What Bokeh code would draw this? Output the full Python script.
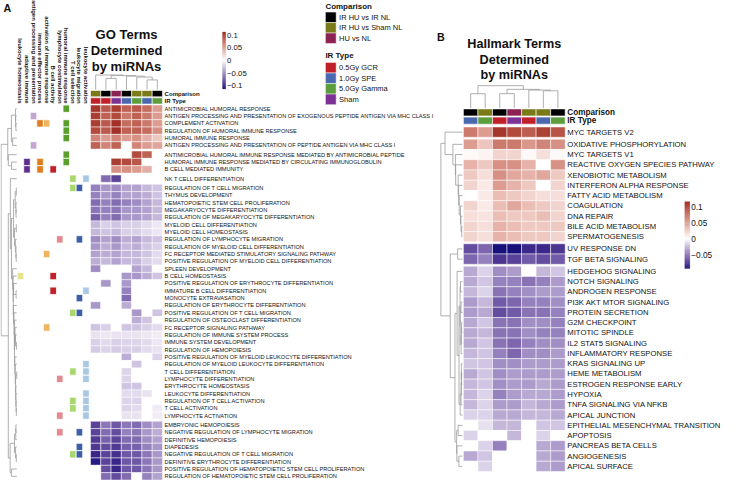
import math
import numpy as np
from bokeh.plotting import figure
from bokeh.models import Range1d
from bokeh.embed import file_html
from bokeh.resources import INLINE
from bokeh.core.properties import value

# ------------------------------------------------------------------ data
comparison_levels = ["IR HU vs IR NL", "IR HU vs Sham NL", "HU vs NL"]
comparison_colors = ["#000000", "#7a7a18", "#8b2252"]
irtype_levels = ["0.5Gy GCR", "1.0Gy SPE", "5.0Gy Gamma", "Sham"]
irtype_colors = ["#c0202a", "#4a68b0", "#5c9e3c", "#7b3294"]

go_comparison = ["IR HU vs Sham NL", "IR HU vs IR NL", "HU vs NL", "IR HU vs IR NL",
                 "IR HU vs Sham NL", "IR HU vs Sham NL", "IR HU vs IR NL"]
go_irtype = ["0.5Gy GCR", "0.5Gy GCR", "Sham", "1.0Gy SPE", "5.0Gy Gamma", "1.0Gy SPE", "5.0Gy Gamma"]
hm_comparison = ["IR HU vs IR NL", "IR HU vs Sham NL", "IR HU vs IR NL", "HU vs NL",
                 "IR HU vs Sham NL", "IR HU vs Sham NL", "IR HU vs IR NL"]
hm_irtype = ["1.0Gy SPE", "5.0Gy Gamma", "0.5Gy GCR", "Sham", "0.5Gy GCR", "1.0Gy SPE", "5.0Gy Gamma"]

go_terms = [
    "ANTIMICROBIAL HUMORAL RESPONSE",
    "ANTIGEN PROCESSING AND PRESENTATION OF EXOGENOUS PEPTIDE ANTIGEN VIA MHC CLASS I",
    "COMPLEMENT ACTIVATION",
    "REGULATION OF HUMORAL IMMUNE RESPONSE",
    "HUMORAL IMMUNE RESPONSE",
    "ANTIGEN PROCESSING AND PRESENTATION OF PEPTIDE ANTIGEN VIA MHC CLASS I",
    "ANTIMICROBIAL HUMORAL IMMUNE RESPONSE MEDIATED BY ANTIMICROBIAL PEPTIDE",
    "HUMORAL IMMUNE RESPONSE MEDIATED BY CIRCULATING IMMUNOGLOBULIN",
    "B CELL MEDIATED IMMUNITY",
    "NK T CELL DIFFERENTIATION",
    "REGULATION OF T CELL MIGRATION",
    "THYMUS DEVELOPMENT",
    "HEMATOPOIETIC STEM CELL PROLIFERATION",
    "MEGAKARYOCYTE DIFFERENTIATION",
    "REGULATION OF MEGAKARYOCYTE DIFFERENTIATION",
    "MYELOID CELL DIFFERENTIATION",
    "MYELOID CELL HOMEOSTASIS",
    "REGULATION OF LYMPHOCYTE MIGRATION",
    "REGULATION OF MYELOID CELL DIFFERENTIATION",
    "FC RECEPTOR MEDIATED STIMULATORY SIGNALING PATHWAY",
    "POSITIVE REGULATION OF MYELOID CELL DIFFERENTIATION",
    "SPLEEN DEVELOPMENT",
    "B CELL HOMEOSTASIS",
    "POSITIVE REGULATION OF ERYTHROCYTE DIFFERENTIATION",
    "IMMATURE B CELL DIFFERENTIATION",
    "MONOCYTE EXTRAVASATION",
    "REGULATION OF ERYTHROCYTE DIFFERENTIATION",
    "POSITIVE REGULATION OF T CELL MIGRATION",
    "REGULATION OF OSTEOCLAST DIFFERENTIATION",
    "FC RECEPTOR SIGNALING PATHWAY",
    "REGULATION OF IMMUNE SYSTEM PROCESS",
    "IMMUNE SYSTEM DEVELOPMENT",
    "REGULATION OF HEMOPOIESIS",
    "POSITIVE REGULATION OF MYELOID LEUKOCYTE DIFFERENTIATION",
    "REGULATION OF MYELOID LEUKOCYTE DIFFERENTIATION",
    "T CELL DIFFERENTIATION",
    "LYMPHOCYTE DIFFERENTIATION",
    "ERYTHROCYTE HOMEOSTASIS",
    "LEUKOCYTE DIFFERENTIATION",
    "REGULATION OF T CELL ACTIVATION",
    "T CELL ACTIVATION",
    "LYMPHOCYTE ACTIVATION",
    "EMBRYONIC HEMOPOIESIS",
    "NEGATIVE REGULATION OF LYMPHOCYTE MIGRATION",
    "DEFINITIVE HEMOPOIESIS",
    "DIAPEDESIS",
    "NEGATIVE REGULATION OF T CELL MIGRATION",
    "DEFINITIVE ERYTHROCYTE DIFFERENTIATION",
    "POSITIVE REGULATION OF HEMATOPOIETIC STEM CELL PROLIFERATION",
    "REGULATION OF HEMATOPOIETIC STEM CELL PROLIFERATION",
]
go_slice_sizes = [6, 3, 1, 32, 8]

go_rows_humoral = [
    [0.102, 0.085, 0.098, 0.080, 0.085, 0.074, 0.050],
    [0.098, 0.080, 0.092, 0.068, 0.080, 0.068, 0.050],
    [0.098, 0.085, 0.104, 0.074, 0.080, 0.068, 0.050],
    [0.092, 0.085, 0.104, 0.080, 0.080, 0.074, 0.056],
    [0.062, 0.050, 0.062, 0.050, 0.056, 0.040, 0.028],
    [0.080, 0.062, 0.080, 0.000, 0.062, 0.050, 0.045],
]
go_rows_adaptive = [
    [0.000, 0.000, 0.000, 0.000, 0.092, 0.080, 0.000],
    [0.000, 0.000, 0.098, 0.092, 0.085, 0.000, 0.000],
    [0.000, 0.000, 0.056, 0.056, 0.050, 0.040, 0.000],
]
go_rows_nkt = [
    [0.000, -0.065, -0.085, 0.000, 0.000, 0.000, 0.000],
]
go_rows_develop = [
    [-0.055, -0.045, -0.050, -0.040, -0.040, -0.030, -0.025],
    [-0.055, -0.045, -0.055, -0.040, -0.040, -0.035, -0.025],
    [-0.065, -0.055, -0.065, -0.055, -0.050, -0.040, -0.030],
    [-0.060, -0.055, -0.060, -0.045, -0.045, -0.040, -0.030],
    [-0.070, -0.055, -0.065, -0.045, -0.045, -0.040, -0.030],
    [-0.030, -0.020, -0.025, -0.020, -0.020, -0.015, -0.010],
    [-0.030, -0.025, -0.030, -0.020, -0.020, -0.015, -0.010],
    [-0.050, -0.040, -0.050, -0.035, -0.040, -0.030, -0.025],
    [-0.045, -0.035, -0.045, -0.030, -0.035, -0.025, -0.020],
    [-0.040, -0.035, -0.040, -0.030, -0.030, -0.025, -0.015],
    [-0.035, -0.030, -0.040, -0.030, -0.030, -0.020, -0.015],
    [-0.050, 0.000, 0.000, 0.000, -0.040, -0.030, 0.000],
    [0.000, 0.000, 0.000, -0.045, -0.045, -0.035, -0.025],
    [0.000, -0.045, 0.000, -0.045, 0.000, 0.000, 0.000],
    [0.000, 0.000, 0.000, -0.055, 0.000, 0.000, 0.000],
    [0.000, 0.000, 0.000, -0.065, 0.000, 0.000, 0.000],
    [-0.045, 0.000, 0.000, -0.035, 0.000, 0.000, 0.000],
    [0.000, 0.000, 0.000, 0.000, -0.045, 0.000, -0.025],
    [0.000, 0.000, 0.000, 0.000, -0.035, -0.025, 0.000],
    [-0.025, -0.020, 0.000, -0.025, -0.025, -0.020, -0.015],
    [-0.012, -0.010, -0.012, -0.012, -0.012, -0.010, -0.008],
    [-0.020, -0.015, -0.020, -0.018, -0.018, -0.015, -0.010],
    [-0.022, -0.018, -0.022, -0.020, -0.020, -0.015, -0.012],
    [0.000, 0.000, 0.000, -0.035, 0.000, 0.000, -0.018],
    [0.000, 0.000, 0.000, 0.000, -0.025, 0.000, 0.000],
    [0.000, 0.000, 0.000, -0.018, 0.000, 0.000, 0.000],
    [0.000, 0.000, 0.000, -0.018, 0.000, 0.000, 0.000],
    [0.000, 0.000, 0.000, -0.025, -0.025, 0.000, 0.000],
    [0.000, 0.000, 0.000, -0.015, -0.015, -0.012, 0.000],
    [0.000, 0.000, 0.000, -0.018, -0.018, 0.000, 0.000],
    [0.000, 0.000, 0.000, -0.018, -0.015, 0.000, -0.008],
    [0.000, 0.000, 0.000, -0.012, -0.012, 0.000, -0.008],
]
go_rows_hemopoiesis = [
    [-0.085, -0.060, -0.075, -0.060, -0.065, -0.050, -0.040],
    [-0.085, -0.065, -0.080, -0.055, -0.060, -0.045, -0.035],
    [-0.090, -0.070, -0.085, -0.065, -0.065, -0.050, -0.040],
    [-0.090, -0.080, -0.090, -0.070, -0.070, -0.055, -0.045],
    [-0.100, -0.085, -0.095, -0.075, -0.075, -0.060, -0.045],
    [-0.105, -0.085, -0.100, -0.075, -0.075, -0.060, -0.045],
    [0.000, -0.080, -0.100, -0.075, -0.075, -0.060, -0.045],
    [0.000, -0.065, -0.080, -0.065, 0.000, -0.055, -0.040],
]

annotation_names = ["leukocyte homeostasis", "adaptive immune", "antigen processing and presentation",
                    "immune effector process", "activation of immune response", "B cell activity",
                    "lymphocyte costimulation", "humoral immune response", "T cell selection",
                    "leukocyte migration", "leukocyte activation"]
annotation_colors = ["#e4e48c", "#5c2e8e", "#c3a6d0", "#e07c1c", "#efb460", "#c0202a",
                     "#e28a8f", "#5a9e2e", "#a8d86c", "#3c5fa8", "#a8c8e2"]
annotation_rows = [
    [22],
    [7, 8],
    [1, 5],
    [2, 7, 8],
    [2, 19, 29],
    [8, 22, 24],
    [17, 36, 41, 43],
    [0, 2, 3, 4, 6, 7],
    [9, 10, 27, 35, 39, 40, 46],
    [10, 17, 25, 27, 43, 45, 46],
    [9, 24, 34, 35, 36, 38, 39, 40, 41],
]

hm_terms = [
    "MYC TARGETS V2", "OXIDATIVE PHOSPHORYLATION", "MYC TARGETS V1", "REACTIVE OXYGEN SPECIES PATHWAY",
    "XENOBIOTIC METABOLISM", "INTERFERON ALPHA RESPONSE", "FATTY ACID METABOLISM", "COAGULATION",
    "DNA REPAIR", "BILE ACID METABOLISM", "SPERMATOGENESIS", "UV RESPONSE DN", "TGF BETA SIGNALING",
    "HEDGEHOG SIGNALING", "NOTCH SIGNALING", "ANDROGEN RESPONSE", "PI3K AKT MTOR SIGNALING",
    "PROTEIN SECRETION", "G2M CHECKPOINT", "MITOTIC SPINDLE", "IL2 STAT5 SIGNALING",
    "INFLAMMATORY RESPONSE", "KRAS SIGNALING UP", "HEME METABOLISM", "ESTROGEN RESPONSE EARLY",
    "HYPOXIA", "TNFA SIGNALING VIA NFKB", "APICAL JUNCTION", "EPITHELIAL MESENCHYMAL TRANSITION",
    "APOPTOSIS", "PANCREAS BETA CELLS", "ANGIOGENESIS", "APICAL SURFACE",
]
hm_slice_sizes = [1, 10, 2, 20]

hm_rows_myc = [
    [0.070, 0.052, 0.105, 0.095, 0.085, 0.100, 0.090],
]
hm_rows_up = [
    [0.052, 0.030, 0.070, 0.070, 0.054, 0.064, 0.058],
    [0.003, 0.006, 0.022, 0.022, 0.003, 0.017, 0.003],
    [0.040, 0.028, 0.058, 0.058, 0.040, 0.000, 0.058],
    [0.028, 0.017, 0.058, 0.046, 0.040, 0.046, 0.028],
    [0.022, 0.011, 0.052, 0.040, 0.028, 0.000, 0.022],
    [0.000, 0.011, 0.034, 0.028, 0.022, 0.017, 0.017],
    [0.022, 0.011, 0.034, 0.046, 0.034, 0.028, 0.022],
    [0.017, 0.014, 0.034, 0.028, 0.028, 0.034, 0.022],
    [0.022, 0.017, 0.040, 0.034, 0.028, 0.028, 0.028],
    [0.022, 0.017, 0.040, 0.034, 0.028, 0.028, 0.022],
]
hm_rows_strong_down = [
    [-0.065, -0.055, -0.090, -0.090, -0.080, -0.080, -0.075],
    [-0.055, -0.045, -0.075, -0.070, -0.060, -0.065, -0.060],
]
hm_rows_down = [
    [-0.030, -0.015, -0.040, -0.035, 0.000, -0.025, -0.020],
    [-0.030, -0.020, -0.045, -0.045, -0.050, -0.045, -0.035],
    [-0.025, -0.015, -0.050, -0.045, -0.040, -0.035, -0.035],
    [-0.035, -0.025, -0.060, -0.055, -0.045, -0.045, -0.040],
    [-0.035, -0.030, -0.065, -0.060, -0.050, -0.050, -0.045],
    [-0.030, -0.020, -0.050, -0.050, -0.040, -0.040, -0.045],
    [-0.030, -0.025, -0.050, -0.050, -0.040, -0.045, -0.045],
    [-0.030, -0.020, -0.050, -0.055, -0.045, -0.040, -0.040],
    [-0.025, -0.020, -0.045, -0.055, -0.040, -0.040, -0.035],
    [-0.020, -0.020, -0.040, -0.040, -0.035, -0.035, -0.035],
    [-0.030, -0.020, -0.040, -0.035, -0.035, -0.035, -0.035],
    [-0.025, -0.020, -0.040, -0.035, -0.035, -0.030, -0.035],
    [-0.025, -0.015, -0.045, -0.035, -0.030, -0.030, -0.035],
    [-0.025, -0.015, -0.035, -0.035, -0.025, -0.030, -0.035],
    [-0.015, -0.015, -0.030, -0.030, -0.025, -0.025, -0.030],
    [0.000, -0.010, -0.025, -0.025, 0.000, -0.020, -0.020],
    [-0.015, 0.000, 0.000, -0.025, 0.000, -0.015, 0.000],
    [0.000, -0.015, -0.045, 0.000, 0.000, -0.030, -0.035],
    [-0.030, -0.020, 0.000, 0.000, 0.000, -0.030, -0.035],
    [0.000, -0.015, 0.000, 0.000, 0.000, -0.030, -0.035],
]

go_color_limits = [-0.113, 0.113]
hm_color_limits = [-0.092, 0.117]
go_legend_ticks = [0.1, 0.05, 0.0, -0.05, -0.1]
hm_legend_ticks = [0.1, 0.05, 0.0, -0.05]
neg_color = "#0a0a78"
pos_color = "#981818"

# ------------------------------------------------------------------ helpers
FONT = "Liberation Sans"
W, H = 733, 480
REF_W, REF_H = 749, 496
FSCALE = 0.973


def fs(px):
    return "%.2fpx" % (px * FSCALE)


def hex2rgb(h):
    h = h.lstrip("#")
    return np.array([int(h[i:i + 2], 16) for i in (0, 2, 4)], float) / 255.0


M = np.array([[0.4124564, 0.3575761, 0.1804375],
              [0.2126729, 0.7151522, 0.0721750],
              [0.0193339, 0.1191920, 0.9503041]])
MINV = np.linalg.inv(M)
WHITE = np.array([0.95047, 1.0, 1.08883])


def rgb2lab(c):
    lin = np.where(c <= 0.04045, c / 12.92, ((c + 0.055) / 1.055) ** 2.4)
    xyz = M @ lin / WHITE
    d = 6 / 29
    f = np.where(xyz > d ** 3, np.cbrt(xyz), xyz / (3 * d * d) + 4 / 29)
    return np.array([116 * f[1] - 16, 500 * (f[0] - f[1]), 200 * (f[1] - f[2])])


def lab2hex(lab):
    d = 6 / 29
    fy = (lab[0] + 16) / 116
    fx = fy + lab[1] / 500
    fz = fy - lab[2] / 200
    fv = np.array([fx, fy, fz])
    xyz = np.where(fv > d, fv ** 3, 3 * d * d * (fv - 4 / 29)) * WHITE
    lin = MINV @ xyz
    lin = np.clip(lin, 0, 1)
    c = np.where(lin <= 0.0031308, 12.92 * lin, 1.055 * lin ** (1 / 2.4) - 0.055)
    c = np.clip(np.round(c * 255), 0, 255).astype(int)
    return "#%02x%02x%02x" % tuple(c)


LAB_W = rgb2lab(np.array([1.0, 1.0, 1.0]))
LAB_N = rgb2lab(hex2rgb(neg_color))
LAB_P = rgb2lab(hex2rgb(pos_color))


def cmap(v, lims):
    if v >= 0:
        t = min(v / lims[1], 1.0)
        return lab2hex(LAB_W + (LAB_P - LAB_W) * t)
    t = min(v / lims[0], 1.0)
    return lab2hex(LAB_W + (LAB_N - LAB_W) * t)


def row_layout(sizes, y0, y1, gap):
    n = sum(sizes)
    h = (y1 - y0 - gap * (len(sizes) - 1)) / n
    tops = []
    y = y0
    for s in sizes:
        for _ in range(s):
            tops.append(y)
            y += h
        y += gap
    return np.array(tops), h


def adj_cluster(data, positions, groups):
    merges = []

    def merge_list(cl):
        while len(cl) > 1:
            ds = [np.linalg.norm(data[cl[i]["m"]].mean(0) - data[cl[i + 1]["m"]].mean(0))
                  for i in range(len(cl) - 1)]
            i = int(np.argmin(ds))
            a, b = cl[i], cl[i + 1]
            hgt = max(ds[i], a["h"] * 1.04 + 1e-4, b["h"] * 1.04 + 1e-4)
            merges.append((a["p"], a["h"], b["p"], b["h"], hgt))
            cl[i:i + 2] = [{"m": a["m"] + b["m"], "p": (a["p"] + b["p"]) / 2, "h": hgt}]
        return cl[0]

    tops = []
    for g in groups:
        tops.append(merge_list([{"m": [i], "p": positions[i], "h": 0.0} for i in g]))
    root = merge_list(tops)
    return merges, root["h"]


# ------------------------------------------------------------------ figure
p = figure(width=W, height=H, x_range=Range1d(0, REF_W), y_range=Range1d(REF_H, 0),
           output_backend="svg", toolbar_location=None, min_border=0)
p.axis.visible = False
p.grid.visible = False
p.outline_line_color = None
p.background_fill_color = "white"
p.border_fill_color = "white"


def txt(x, y, s, size, bold=False, align="left", baseline="middle", angle=0.0, color="#111111"):
    p.text(x=[x], y=[y], text=[s], text_font=value(FONT), text_font_size=fs(size),
           text_font_style="bold" if bold else "normal", text_align=align,
           text_baseline=baseline, angle=angle, text_color=color)


def draw_heatmap(values, terms, sizes, comp, irt, lims, x0, x1, y0, y1, gap, label_size,
                 bar_y, bar_h, bar_gap, name_size, dend_col, dend_row):
    vals = np.array(values, float)
    n, m = vals.shape
    tops, h = row_layout(sizes, y0, y1, gap)
    w = (x1 - x0) / m
    L, R, T, B, C = [], [], [], [], []
    for i in range(n):
        for j in range(m):
            L.append(x0 + j * w); R.append(x0 + (j + 1) * w)
            T.append(tops[i]); B.append(tops[i] + h)
            C.append(cmap(vals[i, j], lims))
    p.quad(left=L, right=R, top=T, bottom=B, fill_color=C, line_color="white", line_width=0.5)
    # labels
    p.text(x=[x1 + 2.2] * n, y=list(tops + h / 2), text=terms, text_font=value(FONT),
           text_font_size=fs(label_size), text_baseline="middle", text_align="left",
           text_color="#111111")
    # top annotation bars
    cc = [comparison_colors[comparison_levels.index(c)] for c in comp]
    ic = [irtype_colors[irtype_levels.index(c)] for c in irt]
    lefts = [x0 + j * w for j in range(m)]
    rights = [x0 + (j + 1) * w for j in range(m)]
    p.quad(left=lefts, right=rights, top=[bar_y] * m, bottom=[bar_y + bar_h] * m,
           fill_color=cc, line_color="white", line_width=0.6)
    p.quad(left=lefts, right=rights, top=[bar_y + bar_h + bar_gap] * m,
           bottom=[bar_y + 2 * bar_h + bar_gap] * m, fill_color=ic, line_color="white", line_width=0.6)
    txt(x1 + 2.2, bar_y + bar_h / 2, "Comparison", name_size, bold=True)
    txt(x1 + 2.2, bar_y + bar_h * 1.5 + bar_gap, "IR Type", name_size, bold=True)
    # column dendrogram
    cpos = [x0 + (j + 0.5) * w for j in range(m)]
    merges, root_h = adj_cluster(vals.T, cpos, [list(range(m))])
    yl, yr = dend_col
    xs, ys = [], []
    Y = lambda hh: yl - hh / root_h * (yl - yr)
    for pa, ha, pb, hb, hh in merges:
        xs.append([pa, pa, pb, pb]); ys.append([Y(ha), Y(hh), Y(hh), Y(hb)])
    p.multi_line(xs=xs, ys=ys, line_color="#9a9a9a", line_width=0.8)
    # row dendrogram
    rpos = list(tops + h / 2)
    groups, k = [], 0
    for s in sizes:
        groups.append(list(range(k, k + s)))
        k += s
    merges, root_h = adj_cluster(vals, rpos, groups)
    xl, xr = dend_row
    X = lambda hh: xl - hh / root_h * (xl - xr)
    xs, ys = [], []
    for pa, ha, pb, hb, hh in merges:
        xs.append([X(ha), X(hh), X(hh), X(hb)]); ys.append([pa, pa, pb, pb])
    p.multi_line(xs=xs, ys=ys, line_color="#9a9a9a", line_width=0.8)
    return tops, h


def draw_colorbar(lims, ticks, x0, x1, y_zero, scale, label_size):
    steps = 80
    vs = np.linspace(lims[1], lims[0], steps + 1)
    tops_ = [y_zero - v * scale for v in vs[:-1]]
    bots_ = [y_zero - v * scale for v in vs[1:]]
    cols = [cmap((a + b) / 2, lims) for a, b in zip(vs[:-1], vs[1:])]
    p.quad(left=[x0] * steps, right=[x1] * steps, top=tops_, bottom=bots_, fill_color=cols,
           line_color=cols, line_width=0.3)
    labels = [("%g" % t).replace("-", "\u2212") for t in ticks]
    p.text(x=[x1 + 1.5] * len(ticks), y=[y_zero - t * scale for t in ticks], text=labels,
           text_font=value(FONT), text_font_size=fs(label_size), text_baseline="middle",
           text_align="left", text_color="#111111")


# ----- GO heatmap (panel A)
go_values = go_rows_humoral + go_rows_adaptive + go_rows_nkt + go_rows_develop + go_rows_hemopoiesis
go_tops, go_h = draw_heatmap(go_values, go_terms, go_slice_sizes, go_comparison, go_irtype,
                             go_color_limits, 92, 165.5, 108, 495.5, 2, 5.8,
                             93, 6.5, 1, 6.2, (92, 77), (16.6, 0.6))

# row annotation columns
ann_x0, ann_w = 17, 6.7
AL, AR, AT, AB, AC = [], [], [], [], []
for k, rows in enumerate(annotation_rows):
    for r in rows:
        AL.append(ann_x0 + k * ann_w); AR.append(ann_x0 + (k + 1) * ann_w)
        AT.append(go_tops[r]); AB.append(go_tops[r] + go_h)
        AC.append(annotation_colors[k])
p.quad(left=AL, right=AR, top=AT, bottom=AB, fill_color=AC, line_color="white", line_width=0.8)
nk = len(annotation_names)
p.text(x=[ann_x0 + (k + 0.5) * ann_w for k in range(nk)], y=[106.5] * nk, text=annotation_names,
       text_font=value(FONT), text_font_size=fs(6.1), text_font_style="bold",
       text_align="right", text_baseline="middle", angle=-math.pi / 2, text_color="#111111")

draw_colorbar(go_color_limits, go_legend_ticks, 227, 230, 62, 260, 8)

# ----- Hallmark heatmap (panel B)
hm_values = hm_rows_myc + hm_rows_up + hm_rows_strong_down + hm_rows_down
draw_heatmap(hm_values, hm_terms, hm_slice_sizes, hm_comparison, hm_irtype,
             hm_color_limits, 473, 577, 130.7, 486.7, 2, 7.9,
             112, 7.3, 1.2, 8.4, (111, 88), (472, 450))
draw_colorbar(hm_color_limits, hm_legend_ticks, 699.3, 704.3, 246.5, 330, 8.5)

# ----- annotation legend
leg_x, sw = 332, 11
txt(leg_x, 6, "Comparison", 8.2, bold=True)
ny = len(comparison_levels)
p.quad(left=[leg_x] * ny, right=[leg_x + sw] * ny, top=[12 + 10.8 * i for i in range(ny)],
       bottom=[12 + 10.8 * (i + 1) for i in range(ny)], fill_color=comparison_colors,
       line_color="white", line_width=0.5)
p.text(x=[leg_x + 14] * ny, y=[12 + 10.8 * (i + 0.5) for i in range(ny)], text=comparison_levels,
       text_font=value(FONT), text_font_size=fs(7.7), text_baseline="middle", text_color="#111111")
txt(leg_x, 57, "IR Type", 8.2, bold=True)
ni = len(irtype_levels)
p.quad(left=[leg_x] * ni, right=[leg_x + sw] * ni, top=[64 + 10.9 * i for i in range(ni)],
       bottom=[64 + 10.9 * (i + 1) for i in range(ni)], fill_color=irtype_colors,
       line_color="white", line_width=0.5)
p.text(x=[leg_x + 14] * ni, y=[64 + 10.9 * (i + 0.5) for i in range(ni)], text=irtype_levels,
       text_font=value(FONT), text_font_size=fs(7.7), text_baseline="middle", text_color="#111111")

# ----- titles
for i, line in enumerate(["GO Terms", "Determined", "by miRNAs"]):
    txt(128.8, 35 + 16.5 * i, line, 13.4, bold=True, align="center")
for i, line in enumerate(["Hallmark Terms", "Determined", "by miRNAs"]):
    txt(525, 45 + 16 * i, line, 13.0, bold=True, align="center")
txt(3, 8, "A", 11, bold=True)
txt(446, 38, "B", 11, bold=True)

open("out.html", "w").write(file_html(p, INLINE))
